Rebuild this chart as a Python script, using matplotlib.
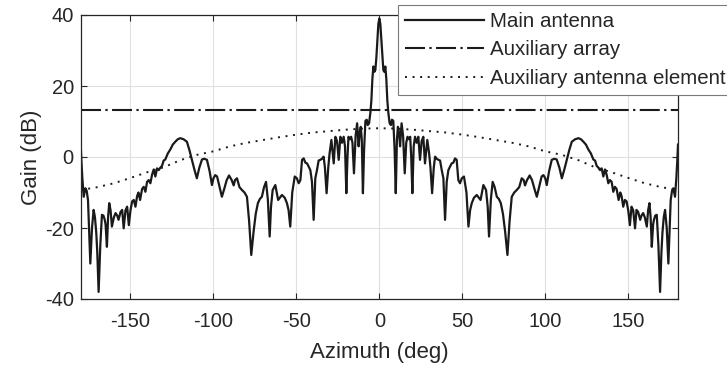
import matplotlib
matplotlib.use("Agg")
import matplotlib.pyplot as plt
import numpy as np

# ---------------- data ----------------
az_left = [
    -180, -179.6, -179, -178.2, -177.2, -176.4, -175.6, -175, -174.2, -173.2,
    -172.2, -171.4, -170.6, -170, -169.2, -168.2, -167.2, -166.3, -165.5, -165,
    -164.2, -163.5, -162.8, -162, -161.2, -160, -159, -158, -157.2, -156,
    -155, -154.1, -153, -152, -151, -150, -149, -148, -147, -146,
    -145.2, -144.2, -143, -142, -141, -140, -139, -138, -137, -136,
    -135, -134, -133, -132, -131, -130, -129, -127.5, -126, -124.5,
    -123, -121.5, -120, -118, -116, -114.5, -113, -111.5, -110, -108.5,
    -106.9, -105.5, -103.9, -102.3, -100.9, -100, -98.9, -97.8, -96.5, -94.9,
    -93.5, -92, -90.6, -89, -87.8, -87, -85.8, -84.3, -82.8, -81.3,
    -79.8, -78.5, -77.2, -75.8, -74.5, -73.2, -72, -70.8, -69.5, -68.3,
    -67.2, -66.1, -65.3, -64.3, -62.7, -61, -60, -58.7, -57, -55.7,
    -54.7, -53.7, -52.5, -51, -49.7, -48.6, -47.6, -46.6, -45.6, -44.6,
    -43.6, -42.6, -41.6, -40.6, -39.6, -38.6, -37.6, -36.6, -35.6, -34.6,
    -33.6, -32.8, -31.8, -30.8, -30, -28.9, -27.5, -26.5, -25.5, -24.5,
    -23.5, -22.5, -21.5, -20.7, -19.9, -19.2, -18.6, -17.8, -17, -16.2,
    -15.3, -14.3, -13.4, -12.5, -11.8, -11.2, -10.6, -9.9, -9.2, -8.4,
    -7.6, -7, -6.2, -5.4, -4.8, -4.2, -3.6, -3, -2.4, -1.8,
    -1.2, -0.6,
]
gain_left = [
    3.5, -0.8, -6, -11.2, -8.8, -9.5, -12.1, -20, -30, -20,
    -14.9, -17, -21.5, -27, -38, -25, -16.3, -16.5, -17.7, -19,
    -25.3, -17, -13, -15, -19.6, -17, -15.8, -16.5, -17.7, -15.5,
    -14.9, -20.1, -15, -14, -19.2, -15, -12.5, -12.1, -14, -11,
    -10, -12.1, -9, -8.4, -9.8, -7, -6.5, -7.4, -5, -3.5,
    -5.5, -3.2, -3.7, -3, -2.5, -1, -0.7, 1, 2.1, 3.5,
    4.3, 5, 5.3, 5, 4.3, 2, -0.8, -3.5, -6, -3,
    -0.7, -0.5, -0.8, -4, -7.9, -6, -5.1, -5.5, -8, -11.2,
    -9, -6.5, -5.2, -6.5, -8, -6.5, -6, -8.5, -9.3, -10,
    -11.2, -18, -27.6, -21, -16, -13, -11.8, -11.2, -8.5, -7,
    -12, -22.4, -14, -9.3, -7.9, -12.1, -11.5, -10.7, -11.5, -13,
    -15, -19.6, -10, -5.5, -6, -7.4, -6.5, -0.8, -0.4, -1.6,
    -1.8, -2.7, -3.7, -7, -17.7, -6, -3.7, -1, -0.8, -0.5,
    0.1, -3, -10.2, -3, 1, 4.8, -1.8, 5.7, 4.5, -0.8,
    5.7, 4, 5.7, 3, -10.2, 0, 5.7, 5, 5.7, 4,
    -4.6, 6, 9.5, 3, 7, 8.5, 5, -10.2, 2, 10.2,
    10.5, 9, 9.5, 12.5, 16, 22, 25.5, 24, 24.5, 28,
    33, 37.5,
]
az_right = [
    0.0, 0.6, 1.2, 1.8, 2.4, 3.0, 3.6, 4.2, 4.8, 5.4,
    6.2, 7.0, 7.6, 8.4, 9.2, 9.9, 10.6, 11.2, 11.8, 12.5,
    13.4, 14.3, 15.3, 16.2, 17.0, 17.8, 18.6, 19.2, 19.9, 20.7,
    21.5, 22.5, 23.5, 24.5, 25.5, 26.5, 27.5, 28.9, 30.0, 30.8,
    31.8, 32.8, 33.6, 34.6, 35.6, 36.6, 37.6, 38.6, 39.6, 40.6,
    41.6, 42.6, 43.6, 44.6, 45.6, 46.6, 47.6, 48.6, 49.7, 51,
    52.5, 53.7, 54.7, 55.7, 57, 58.7, 60, 61, 62.7, 64.3,
    65.3, 66.1, 67.2, 68.3, 69.5, 70.8, 72, 73.2, 74.5, 75.8,
    77.2, 78.5, 79.8, 81.3, 82.8, 84.3, 85.8, 87.0, 87.8, 89,
    90.6, 92, 93.5, 94.9, 96.5, 97.8, 98.9, 100.0, 100.9, 102.3,
    103.9, 105.5, 106.9, 108.5, 110, 111.5, 113, 114.5, 116, 118,
    120, 121.5, 123, 124.5, 126, 127.5, 129, 130, 131, 132,
    133, 134, 135, 136, 137, 138, 139, 140, 141, 142,
    143, 144.2, 145.2, 146, 147, 148, 149, 150, 151, 152,
    153, 154.1, 155, 156, 157.2, 158, 159, 160, 161.2, 162,
    162.8, 163.5, 164.2, 165, 165.5, 166.3, 167.2, 168.2, 169.2, 170,
    170.6, 171.4, 172.2, 173.2, 174.2, 175, 175.6, 176.4, 177.2, 178.2,
    179, 179.6, 180,
]
gain_right = [
    39, 37.5, 33, 28, 24.5, 24, 25.5, 22, 16, 12.5,
    9.5, 9, 10.5, 10.2, 2, -10.2, 5, 8.5, 7, 3,
    9.5, 6, -4.6, 4, 5.7, 5, 5.7, 0, -10.2, 3,
    5.7, 4, 5.7, -0.8, 4.5, 5.7, -1.8, 4.8, 1, -3,
    -10.2, -3, 0.1, -0.5, -0.8, -1, -3.7, -6, -17.7, -7,
    -3.7, -2.7, -1.8, -1.6, -0.4, -0.8, -6.5, -7.4, -6, -5.5,
    -10, -19.6, -15, -13, -11.5, -10.7, -11.5, -12.1, -7.9, -9.3,
    -14, -22.4, -12, -7, -8.5, -11.2, -11.8, -13, -16, -21,
    -27.6, -18, -11.2, -10, -9.3, -8.5, -6, -6.5, -8, -6.5,
    -5.2, -6.5, -9, -11.2, -8, -5.5, -5.1, -6, -7.9, -4,
    -0.8, -0.5, -0.7, -3, -6, -3.5, -0.8, 2, 4.3, 5,
    5.3, 5, 4.3, 3.5, 2.1, 1, -0.7, -1, -2.5, -3,
    -3.7, -3.2, -5.5, -3.5, -5, -7.4, -6.5, -7, -9.8, -8.4,
    -9, -12.1, -10, -11, -14, -12.1, -12.5, -15, -19.2, -14,
    -15, -20.1, -14.9, -15.5, -17.7, -16.5, -15.8, -17, -19.6, -15,
    -13, -17, -25.3, -19, -17.7, -16.5, -16.3, -25, -38, -27,
    -21.5, -17, -14.9, -20, -30, -20, -12.1, -9.5, -8.8, -11.2,
    -6, -0.8, 3.5,
]

az_aux_array = [-180, 180]
gain_aux_array = [13.2, 13.2]

az_elem = [-180, -170, -160, -150, -140, -130, -120, -110, -100, -90,
           -80, -70, -60, -50, -40, -30, -20, -10, 0,
           10, 20, 30, 40, 50, 60, 70, 80, 90, 100,
           110, 120, 130, 140, 150, 160, 170, 180]
gain_elem = [-9.3, -8.5, -7.4, -5.9, -4.3, -2.9, -0.9, 0.6, 1.6, 3.0,
             4.0, 4.8, 5.6, 6.3, 6.9, 7.3, 7.7, 8.0, 8.1,
             8.0, 7.7, 7.3, 6.9, 6.3, 5.6, 4.8, 4.0, 3.0, 1.6,
             0.6, -0.9, -2.9, -4.3, -5.9, -7.4, -8.5, -9.3]

labels = ["Main antenna", "Auxiliary array", "Auxiliary antenna element"]
xticks = [-150, -100, -50, 0, 50, 100, 150]
yticks = [-40, -20, 0, 20, 40]

az_main = az_left + az_right
gain_main = gain_left + gain_right

# ---------------- plot ----------------
plt.rcParams['font.family'] = ['Liberation Sans', 'DejaVu Sans']
plt.rcParams['axes.unicode_minus'] = False
TXT = '#262626'

fig = plt.figure(figsize=(7.27, 3.66), dpi=100)
ax = fig.add_axes([80.7 / 727, 67 / 366, 597.3 / 727, 284 / 366])

l1, = ax.plot(az_main, gain_main, color='#1a1a1a', lw=1.6, solid_joinstyle='round')
l2, = ax.plot(az_aux_array, gain_aux_array, color='#1a1a1a', lw=1.5,
              linestyle=(0, (9.6, 2.1, 1.1, 2.1)))
l3, = ax.plot(az_elem, gain_elem, color='#1a1a1a', lw=1.4,
              linestyle=(0, (1, 2.9)))

ax.set_xlim(-180, 180)
ax.set_ylim(-40, 40)
ax.set_xticks(xticks)
ax.set_yticks(yticks)
ax.grid(True, color='#dfe0e4', lw=0.8)
ax.set_axisbelow(True)
ax.tick_params(direction='in', length=4.5, width=0.8, color=TXT,
               labelsize=14.5, labelcolor=TXT, top=True, right=True)
ax.tick_params(axis='x', pad=9.5)
ax.tick_params(axis='y', pad=5)
for s in ax.spines.values():
    s.set_color(TXT)
    s.set_linewidth(0.9)

ax.set_xlabel("Azimuth (deg)", fontsize=16, color=TXT, labelpad=8)
ax.set_ylabel("Gain (dB)", fontsize=16, color=TXT, labelpad=2)

leg = ax.legend([l1, l2, l3], labels, loc='upper left',
                bbox_to_anchor=(398.3 / 727, 1 - 5 / 366),
                bbox_transform=fig.transFigure,
                fontsize=14.8, handlelength=3.8, handletextpad=0.3,
                borderpad=0.35, labelspacing=0.45, borderaxespad=0,
                fancybox=False, framealpha=1, edgecolor='#7a7a7a')
for t in leg.get_texts():
    t.set_color(TXT)
leg.get_frame().set_linewidth(0.8)

fig.savefig("out.png", dpi=100)
